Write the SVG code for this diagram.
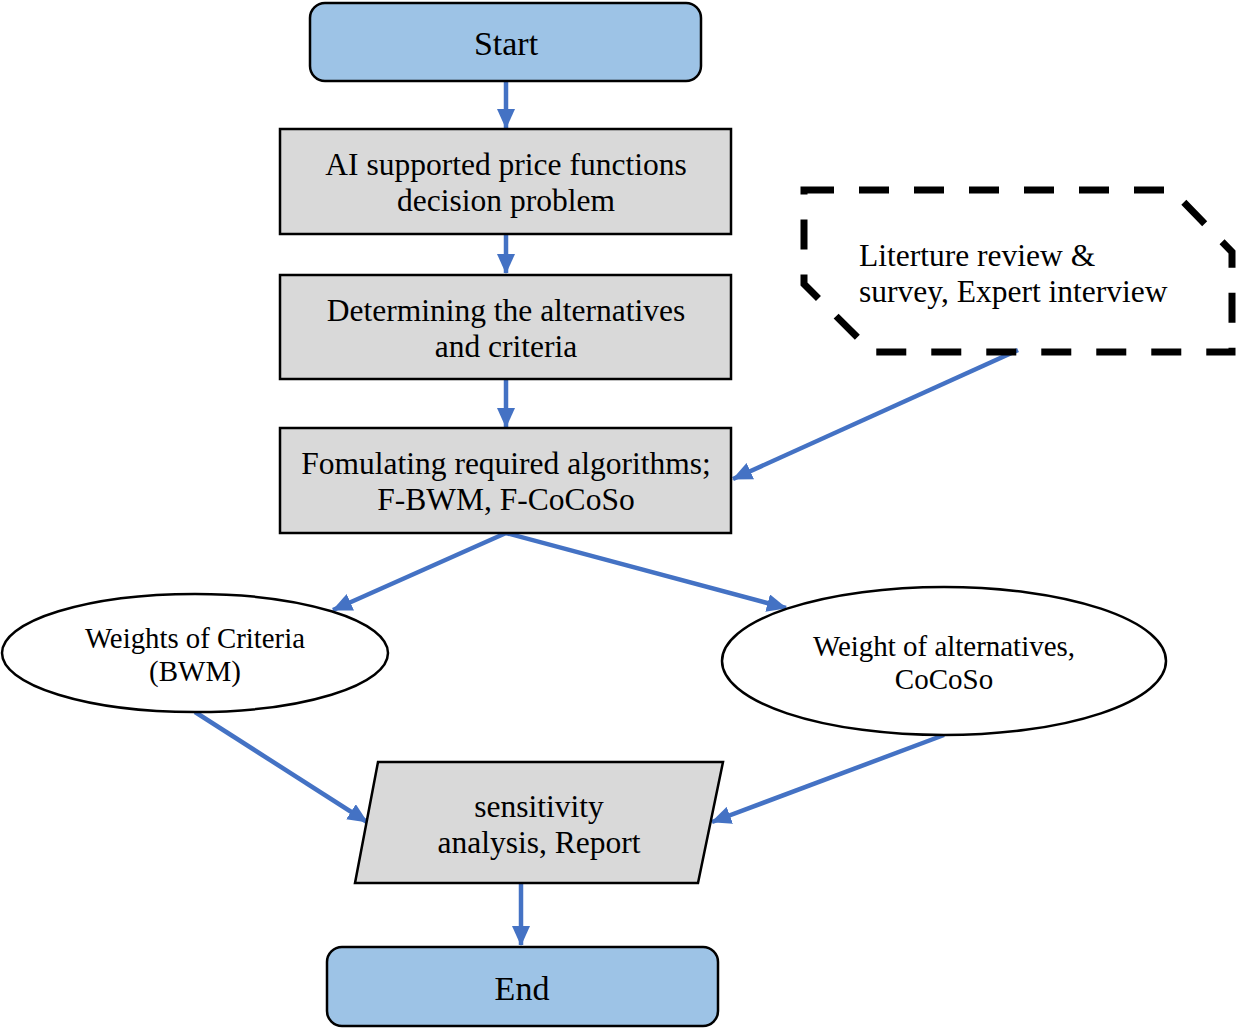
<svg xmlns="http://www.w3.org/2000/svg" width="1238" height="1028" viewBox="0 0 1238 1028">
<style>
text{font-family:"Liberation Serif","Times New Roman",serif;fill:#000}
.t{font-size:31.5px;text-anchor:middle}
.big{font-size:34px;text-anchor:middle}
.e{font-size:29px;text-anchor:middle}
.term{fill:#9DC3E6;stroke:#000;stroke-width:2.5}
.box{fill:#D9D9D9;stroke:#000;stroke-width:2.5}
.ell{fill:#fff;stroke:#000;stroke-width:2.5}
.c{stroke:#4472C4;stroke-width:4.5;fill:none;marker-end:url(#ah)}
</style>
<defs>
<marker id="ah" markerUnits="userSpaceOnUse" markerWidth="20" markerHeight="18" refX="19" refY="9" orient="auto">
<path d="M0,0 L20,9 L0,18 Z" fill="#4472C4"/>
</marker>
</defs>
<g id="connectors">
<line class="c" x1="506" y1="82" x2="506" y2="128"/>
<line class="c" x1="506" y1="235" x2="506" y2="273"/>
<line class="c" x1="506" y1="380" x2="506" y2="427"/>
<line class="c" x1="1018" y1="350" x2="733" y2="479"/>
<polyline class="c" points="506,533 333,610"/>
<polyline class="c" points="506,533 786,608"/>
<line class="c" x1="195" y1="712" x2="367" y2="822"/>
<line class="c" x1="944" y1="735" x2="712" y2="822"/>
<line class="c" x1="521" y1="884" x2="521" y2="945"/>
</g>
<g id="start">
<rect class="term" x="310" y="3" width="391" height="78" rx="15"/>
<text class="big" x="506" y="55">Start</text>
</g>
<g id="problem">
<rect class="box" x="280" y="129" width="451" height="105"/>
<text class="t" x="506" y="175">AI supported price functions</text>
<text class="t" x="506" y="211">decision problem</text>
</g>
<g id="determine">
<rect class="box" x="280" y="275" width="451" height="104"/>
<text class="t" x="506" y="321">Determining the alternatives</text>
<text class="t" x="506" y="357">and criteria</text>
</g>
<g id="formulate">
<rect class="box" x="280" y="428" width="451" height="105"/>
<text class="t" x="506" y="474">Fomulating required algorithms;</text>
<text class="t" x="506" y="510">F-BWM, F-CoCoSo</text>
</g>
<g id="literature">
<path d="M804,190 L1172,190 L1232,252 L1232,352 L872,352 L804,284 Z" fill="none" stroke="#000" stroke-width="7" stroke-dasharray="30,25"/>
<text x="859" y="266" style="font-size:31.5px">Literture review &amp;</text>
<text x="859" y="302" style="font-size:31.5px">survey, Expert interview</text>
</g>
<g id="bwm">
<ellipse class="ell" cx="195" cy="653" rx="193" ry="59"/>
<text class="e" x="195" y="648" textLength="220" lengthAdjust="spacingAndGlyphs">Weights of Criteria</text>
<text class="e" x="195" y="681">(BWM)</text>
</g>
<g id="cocoso">
<ellipse class="ell" cx="944" cy="661" rx="222" ry="74"/>
<text class="e" x="944" y="656" textLength="262" lengthAdjust="spacingAndGlyphs">Weight of alternatives,</text>
<text class="e" x="944" y="689">CoCoSo</text>
</g>
<g id="sensitivity">
<polygon class="box" points="378,762 723,762 698,883 355,883"/>
<text class="t" x="539" y="817">sensitivity</text>
<text class="t" x="539" y="853">analysis, Report</text>
</g>
<g id="end">
<rect class="term" x="327" y="947" width="391" height="79" rx="15"/>
<text class="big" x="522" y="1000">End</text>
</g>
</svg>
